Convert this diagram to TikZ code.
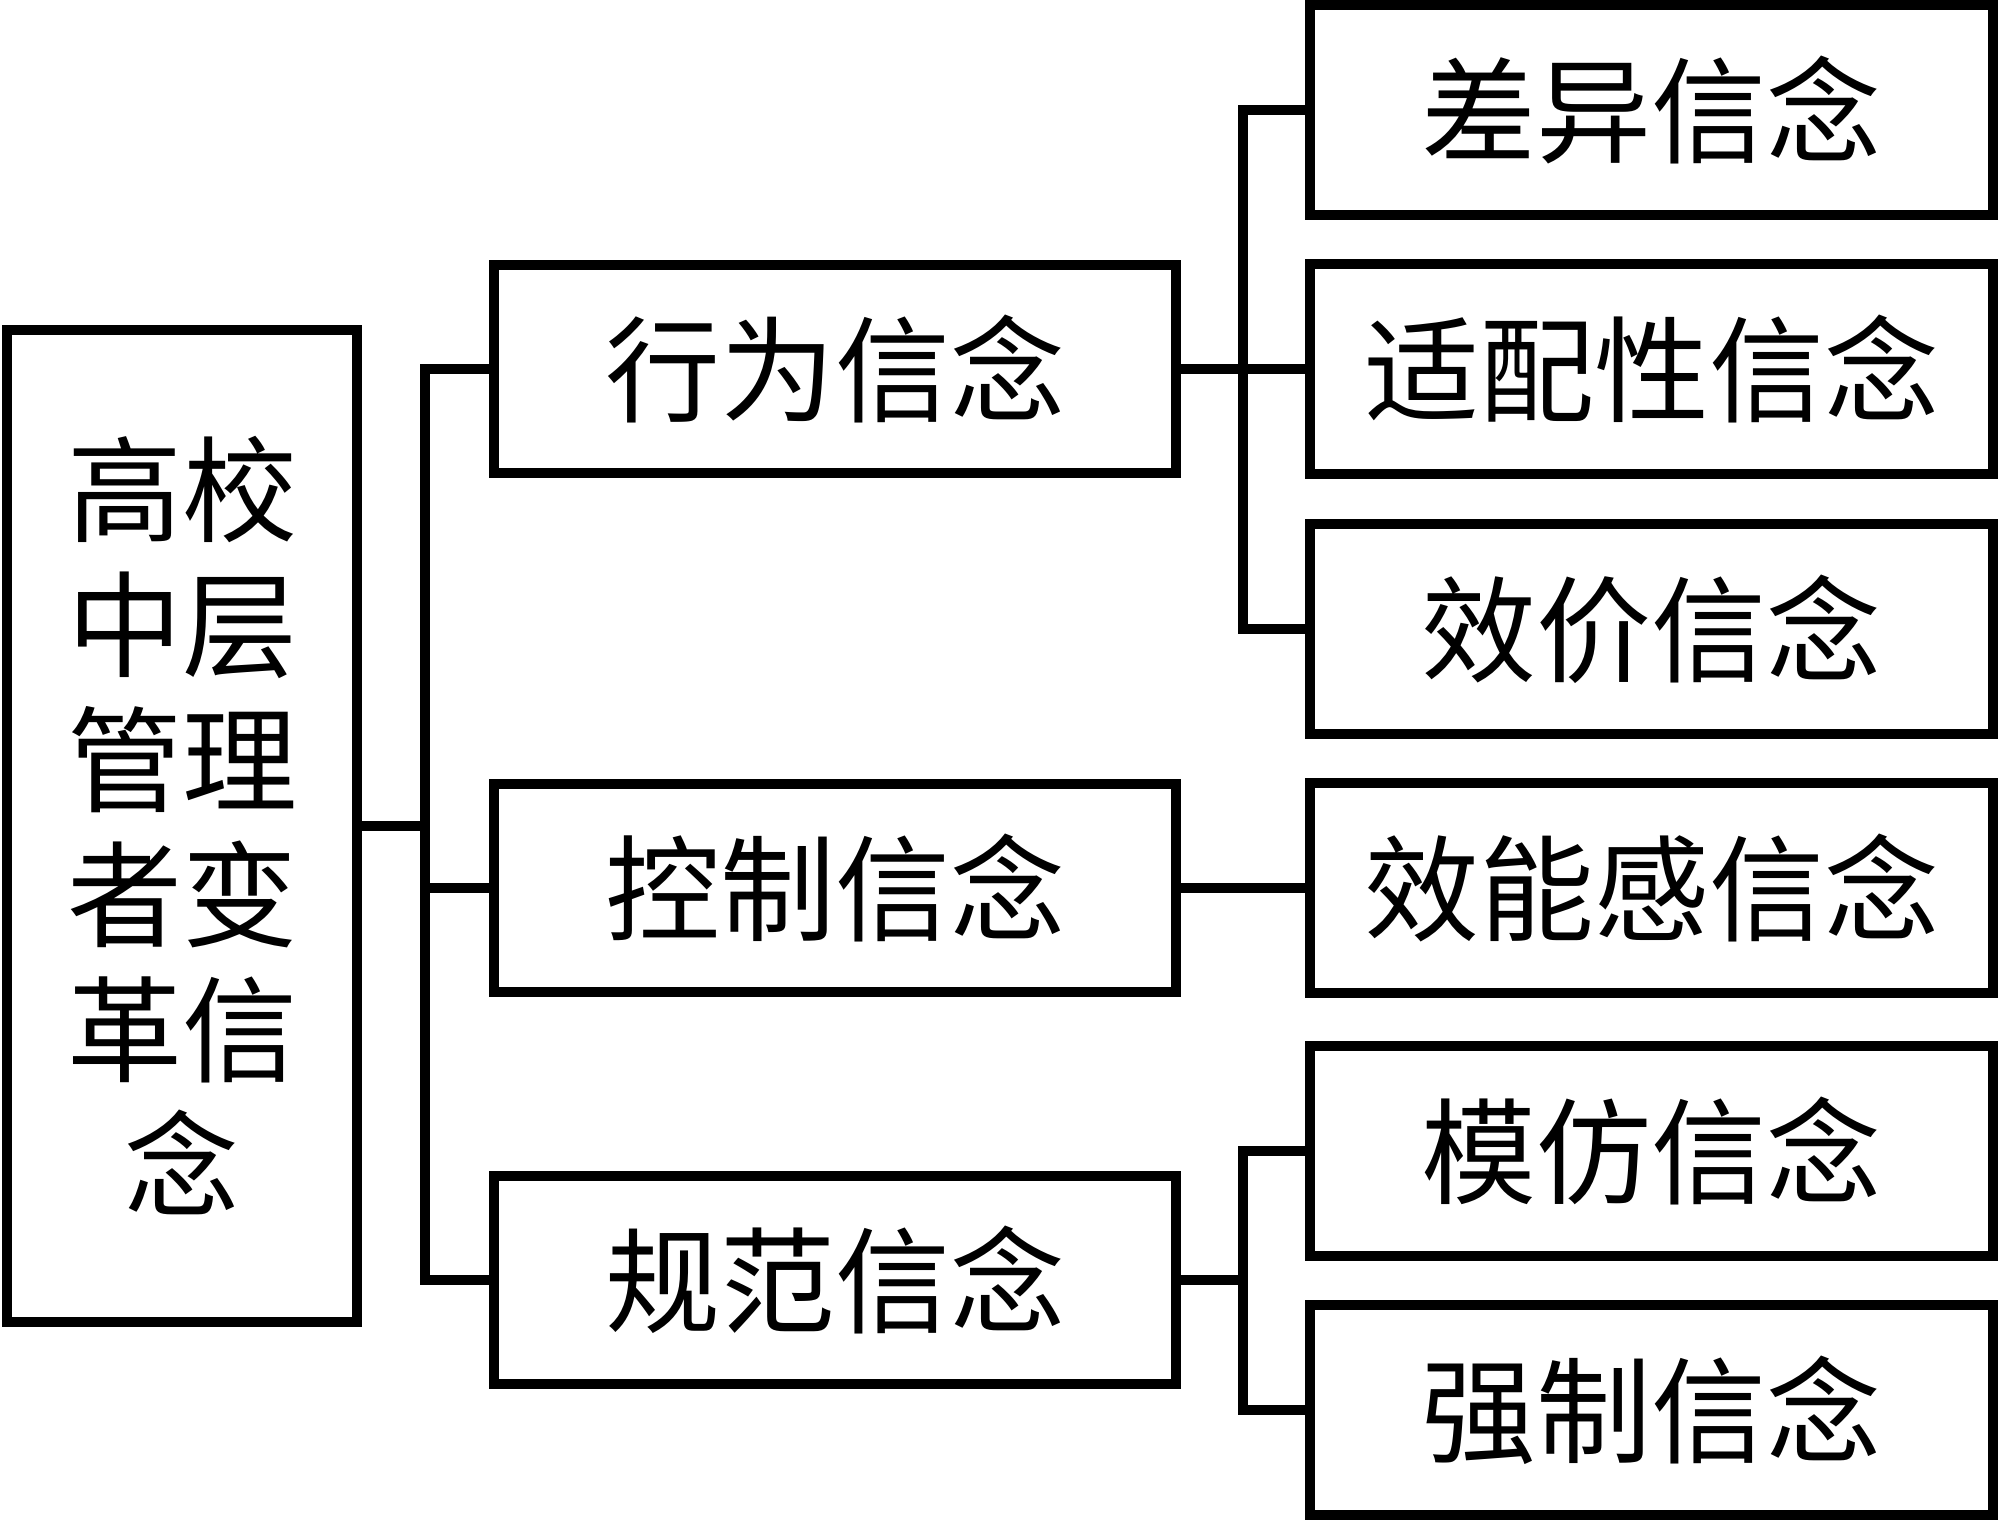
\documentclass[tikz,border=0pt]{standalone}
\usepackage{fontspec}
\newfontfamily\song{Noto Sans CJK SC}
\begin{document}
\begin{tikzpicture}[x=1pt,y=-1pt,line width=10pt,
  box/.style={draw,line width=10pt,inner sep=0pt,align=center,
    font=\song\fontsize{115}{135}\selectfont},
  midbox/.style={box,minimum width=682pt,minimum height=208pt},
  rbox/.style={box,minimum width=683pt,minimum height=210pt}]
\useasboundingbox (0,0) rectangle (1999,1520);
\fill[white] (0,0) rectangle (1999,1520);
\node[box,minimum width=350pt,minimum height=992pt] (root) at (182,826)
  {高校\\中层\\管理\\者变\\革信\\念};
\node[midbox] (m1) at (835,369) {行为信念};
\node[midbox] (m2) at (835,888) {控制信念};
\node[midbox] (m3) at (835,1280) {规范信念};
\node[rbox] (r1) at (1651.5,110) {差异信念};
\node[rbox] (r2) at (1651.5,369) {适配性信念};
\node[rbox] (r3) at (1651.5,629) {效价信念};
\node[rbox] (r4) at (1651.5,888) {效能感信念};
\node[rbox] (r5) at (1651.5,1151) {模仿信念};
\node[rbox] (r6) at (1651.5,1410) {强制信念};
\coordinate (t) at (425,826);
\coordinate (j1) at (1243,369);
\coordinate (j2) at (1243,1280);
\draw (root.east) -- (t);
\draw (m1.west) -- (m1.west -| t) -- (m3.west -| t) -- (m3.west);
\draw (m2.west) -- (m2.west -| t);
\draw (m1.east) -- (j1);
\draw (r1.west) -- (r1.west -| j1) -- (r3.west -| j1) -- (r3.west);
\draw (r2.west) -- (j1);
\draw (m2.east) -- (r4.west);
\draw (m3.east) -- (j2);
\draw (r5.west) -- (r5.west -| j2) -- (r6.west -| j2) -- (r6.west);
\end{tikzpicture}
\end{document}
